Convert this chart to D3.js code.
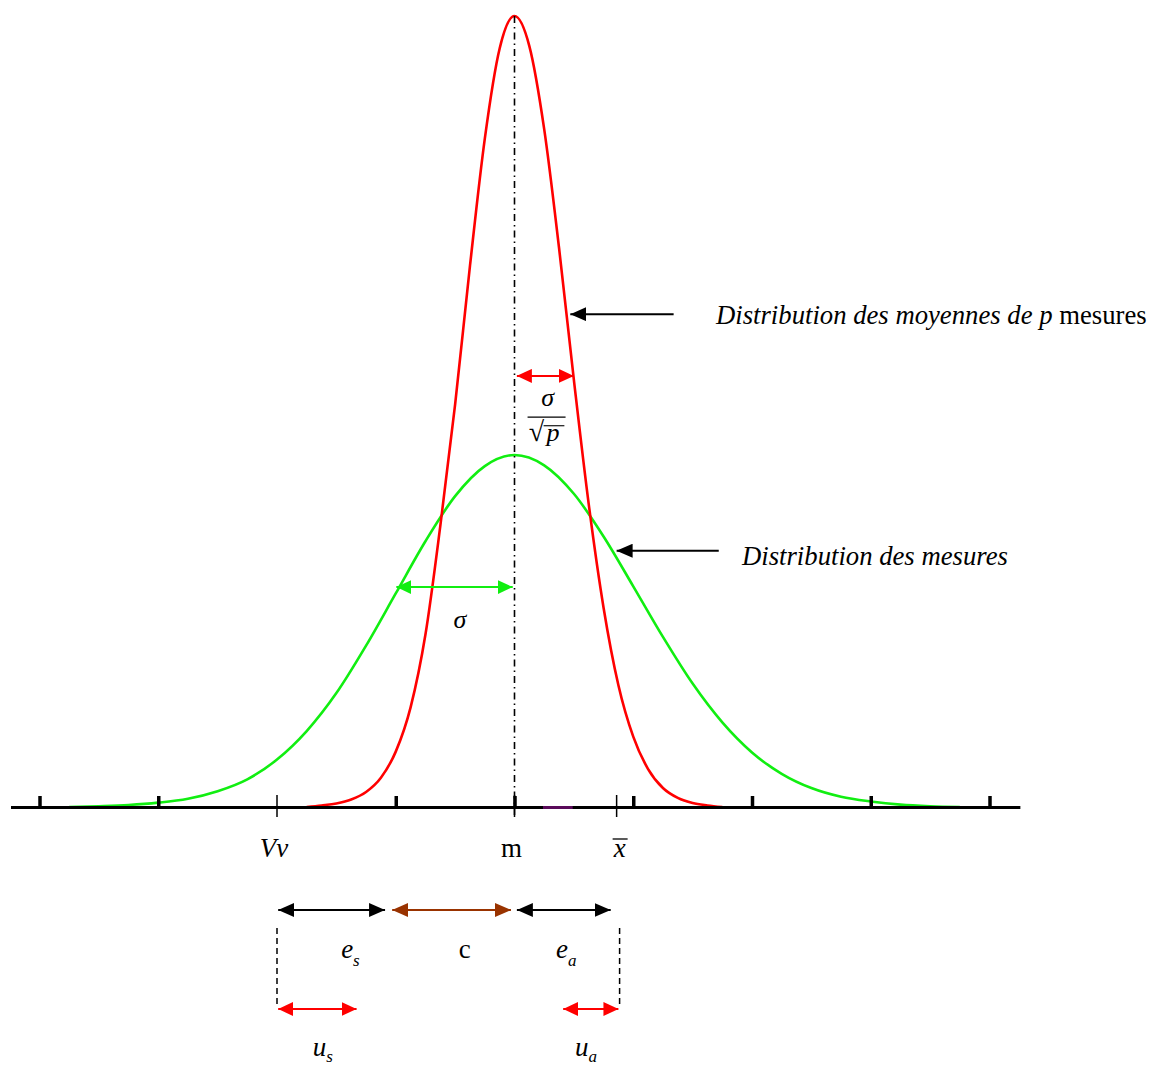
<!DOCTYPE html>
<html>
<head>
<meta charset="utf-8">
<script src="https://cdn.jsdelivr.net/npm/d3@7"></script>
<style>
  body { margin: 0; background: #fff; }
  text { font-family: "Liberation Serif", "Times New Roman", serif; fill: #000; }
</style>
</head>
<body>
<svg id="chart"></svg>
<script>
// x in units of one tick step, centred on m ; y with the top of the red curve = 100
const majorTicks = [-4, -3, -1, 0, 1, 2, 3, 4];
const refLabels = ["Vv", "m", "x"];
const refPos = [-2, 0, 0.86];

// distribution des mesures (green)
const greenX = [-3.75, -3.5, -3.25, -3, -2.75, -2.5, -2.25, -2, -1.75, -1.5, -1.25, -1, -0.75, -0.5, -0.25, 0,
                0.25, 0.5, 0.75, 1, 1.25, 1.5, 1.75, 2, 2.25, 2.5, 2.75, 3, 3.25, 3.5, 3.75];
const greenY = [0, 0.1, 0.25, 0.55, 1.05, 2.0, 3.5, 6.0, 9.6, 14.4, 20.4, 27.0, 33.6, 39.3, 43.1, 44.5,
                43.2, 39.6, 34.2, 27.9, 21.5, 15.6, 10.7, 6.9, 4.2, 2.4, 1.3, 0.7, 0.3, 0.1, 0];

// distribution des moyennes de p mesures (red)
const redX = [-1.75, -1.625, -1.5, -1.375, -1.25, -1.125, -1, -0.875, -0.75, -0.625, -0.5, -0.375, -0.25, -0.125, 0,
              0.125, 0.25, 0.375, 0.5, 0.625, 0.75, 0.875, 1, 1.125, 1.25, 1.375, 1.5, 1.625, 1.75];
const redY = [0, 0.2, 0.45, 0.95, 1.9, 3.7, 7.0, 12.6, 21.8, 35.5, 50.9, 68.4, 84.5, 95.9, 100,
              96.2, 85.7, 70.7, 54.0, 38.3, 25.2, 15.4, 8.9, 4.8, 2.4, 1.15, 0.5, 0.2, 0];

const width = 1150;
const height = 1066;

const svg = d3.select("#chart")
    .attr("width", width)
    .attr("height", height);

const x = d3.scaleLinear().domain([-4, 4]).range([39.5, 989.5]);
const y = d3.scaleLinear().domain([0, 100]).range([807, 16]);
const base = y(0);

// arrow heads
const defs = svg.append("defs");
function marker(id, color, len, wid) {
    defs.append("marker")
        .attr("id", id)
        .attr("markerUnits", "userSpaceOnUse")
        .attr("markerWidth", len)
        .attr("markerHeight", wid)
        .attr("refX", len)
        .attr("refY", wid / 2)
        .attr("orient", "auto-start-reverse")
        .append("path")
        .attr("d", `M0,0 L${len},${wid / 2} L0,${wid} Z`)
        .attr("fill", color);
}
marker("ah-black", "#000", 16, 14);
marker("ah-red", "#ff0000", 15, 14);
marker("ah-green", "#11ee11", 15, 14);
marker("ah-brown", "#993300", 16, 14);

function arrow(x1, x2, yy, color, id, both, w) {
    const l = svg.append("line")
        .attr("x1", x(x1)).attr("x2", x(x2))
        .attr("y1", yy).attr("y2", yy)
        .attr("stroke", color)
        .attr("stroke-width", w || 2)
        .attr("marker-end", `url(#${id})`);
    if (both) l.attr("marker-start", `url(#${id})`);
}

// curves
const line = d3.line()
    .x(d => x(d[0]))
    .y(d => y(d[1]))
    .curve(d3.curveMonotoneX);

svg.append("path")
    .datum(d3.zip(greenX, greenY))
    .attr("d", line)
    .attr("fill", "none")
    .attr("stroke", "#11ee11")
    .attr("stroke-width", 2.6);

svg.append("path")
    .datum(d3.zip(redX, redY))
    .attr("d", line)
    .attr("fill", "none")
    .attr("stroke", "#ff0000")
    .attr("stroke-width", 2.6);

// axis
svg.append("line")
    .attr("x1", x(-4.24)).attr("x2", x(4.26))
    .attr("y1", base + 0.5).attr("y2", base + 0.5)
    .attr("stroke", "#000")
    .attr("stroke-width", 3);

svg.append("line")
    .attr("x1", x(0.24)).attr("x2", x(0.49))
    .attr("y1", base + 0.5).attr("y2", base + 0.5)
    .attr("stroke", "#5a0a5a")
    .attr("stroke-width", 3);

svg.append("g")
    .attr("transform", `translate(0,${base + 1})`)
    .call(d3.axisBottom(x).tickValues(majorTicks).tickSizeInner(-12).tickSizeOuter(0).tickFormat(""))
    .call(g => g.select(".domain").remove())
    .call(g => g.selectAll(".tick line").attr("stroke", "#000").attr("stroke-width", 3.5));

// thin reference ticks
svg.selectAll(".reftick")
    .data(refPos)
    .join("line")
    .attr("class", "reftick")
    .attr("x1", d => x(d)).attr("x2", d => x(d))
    .attr("y1", base - 12).attr("y2", base + 10)
    .attr("stroke", "#000")
    .attr("stroke-width", 1.5);

// centre line
svg.append("line")
    .attr("x1", x(0)).attr("x2", x(0))
    .attr("y1", y(100)).attr("y2", base + 10)
    .attr("stroke", "#000")
    .attr("stroke-width", 1.6)
    .attr("stroke-dasharray", "7,4,1.5,4");

// reference labels
svg.selectAll(".reflabel")
    .data(refLabels)
    .join("text")
    .attr("class", "reflabel")
    .attr("x", (d, i) => x(refPos[i]) + (i === 1 ? -3 : i === 2 ? 3 : -3))
    .attr("y", base + 50)
    .attr("text-anchor", "middle")
    .attr("font-size", 27)
    .attr("font-style", (d, i) => i === 1 ? "normal" : "italic")
    .text(d => d);
// bar over x
svg.append("line")
    .attr("x1", x(refPos[2]) - 4).attr("x2", x(refPos[2]) + 11)
    .attr("y1", base + 32).attr("y2", base + 32)
    .attr("stroke", "#000").attr("stroke-width", 1.3);

// sigma / sqrt(p)
arrow(0.02, 0.5, y(54.5), "#ff0000", "ah-red", true, 2);
svg.append("text")
    .attr("x", x(0.28)).attr("y", y(50.7))
    .attr("text-anchor", "middle")
    .attr("font-size", 26).attr("font-style", "italic")
    .text("σ");
svg.append("line")
    .attr("x1", x(0.11)).attr("x2", x(0.43))
    .attr("y1", y(49.3)).attr("y2", y(49.3))
    .attr("stroke", "#000").attr("stroke-width", 1.3);
svg.append("text")
    .attr("x", x(0.12)).attr("y", y(46.3))
    .attr("font-size", 28)
    .text("√");
svg.append("text")
    .attr("x", x(0.27)).attr("y", y(46.3))
    .attr("font-size", 26).attr("font-style", "italic")
    .text("p");
svg.append("line")
    .attr("x1", x(0.245)).attr("x2", x(0.42))
    .attr("y1", y(48.2)).attr("y2", y(48.2))
    .attr("stroke", "#000").attr("stroke-width", 1.1);

// sigma of the measures
arrow(-0.995, -0.015, y(27.8), "#11ee11", "ah-green", true, 2);
svg.append("text")
    .attr("x", x(-0.46)).attr("y", y(22.6))
    .attr("text-anchor", "middle")
    .attr("font-size", 26).attr("font-style", "italic")
    .text("σ");

// pointers and captions
arrow(1.34, 0.47, y(62.3), "#000", "ah-black", false, 2);
const t1 = svg.append("text")
    .attr("x", 716).attr("y", y(61))
    .attr("font-size", 26.7);
t1.append("tspan").attr("font-style", "italic").text("Distribution des moyennes de p");
t1.append("tspan").text(" mesures");

arrow(1.72, 0.86, y(32.4), "#000", "ah-black", false, 2);
svg.append("text")
    .attr("x", 742).attr("y", y(30.6))
    .attr("font-size", 26.7).attr("font-style", "italic")
    .text("Distribution des mesures");

// error decomposition below the axis
arrow(-1.99, -1.09, base + 103, "#000", "ah-black", true, 2);
arrow(-1.03, -0.03, base + 103, "#993300", "ah-brown", true, 2);
arrow(0.02, 0.81, base + 103, "#000", "ah-black", true, 2);

[-2, 0.885].forEach(v => {
    svg.append("line")
        .attr("x1", x(v)).attr("x2", x(v))
        .attr("y1", base + 121).attr("y2", base + 199)
        .attr("stroke", "#000")
        .attr("stroke-width", 1.5)
        .attr("stroke-dasharray", "6,4");
});

arrow(-1.99, -1.33, base + 202, "#ff0000", "ah-red", true, 2);
arrow(0.41, 0.875, base + 202, "#ff0000", "ah-red", true, 2);

function sub(px, py, main, s, dy) {
    const t = svg.append("text")
        .attr("x", px).attr("y", py)
        .attr("font-size", 27).attr("font-style", "italic");
    t.append("tspan").text(main);
    t.append("tspan").attr("font-size", 17).attr("dy", dy).text(s);
}
sub(x(-1.46), base + 151, "e", "s", 8);
sub(x(0.35), base + 151, "e", "a", 8);
svg.append("text")
    .attr("x", x(-0.42)).attr("y", base + 151)
    .attr("text-anchor", "middle")
    .attr("font-size", 27)
    .text("c");
sub(x(-1.7), base + 249, "u", "s", 6);
sub(x(0.51), base + 249, "u", "a", 6);
</script>
</body>
</html>
